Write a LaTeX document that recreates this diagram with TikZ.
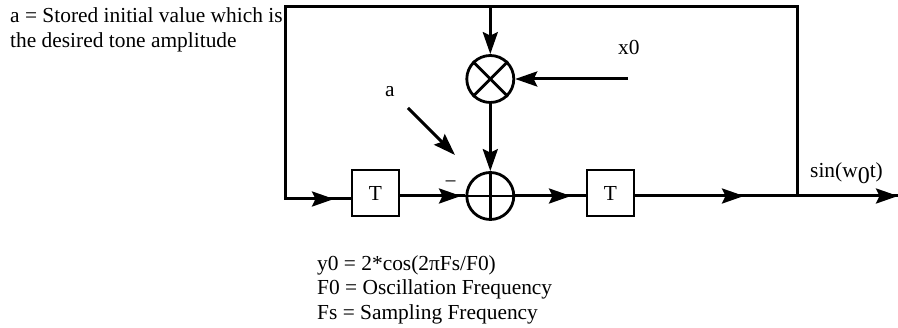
\documentclass[tikz,border=0pt]{standalone}
\usepackage{fontspec}
\setmainfont{Liberation Serif}
\usetikzlibrary{arrows.meta}
\tikzset{
  x=1pt,y=-1pt,
  wire/.style={line width=3pt,line cap=butt,draw=black},
  arr/.style={wire,-{Stealth[length=22pt,width=15pt,inset=3.5pt]}},
  delaybox/.style={draw=black,line width=2.8pt,minimum width=47pt,minimum height=46pt,inner sep=0pt,font=\fontsize{21.4}{25}\selectfont},
  opcircle/.style={draw=black,line width=2.8pt,circle,minimum size=47pt,inner sep=0pt},
  lbl/.style={inner sep=0pt,anchor=base west,font=\fontsize{21.4}{25}\selectfont}
}
\begin{document}
\begin{tikzpicture}
\useasboundingbox (0,0) rectangle (898,328);
% operators
\node[opcircle] (mul) at (490.3,79) {};
\node[opcircle] (sum) at (490.3,196) {};
\draw[line width=2.8pt] (mul.north west) -- (mul.south east);
\draw[line width=2.8pt] (mul.north east) -- (mul.south west);
\draw[line width=2.8pt] (sum.north) -- (sum.south);
\draw[line width=2.8pt] (sum.west) -- (sum.east);
% delays
\node[delaybox] (t1) at (375.5,193) {T};
\node[delaybox] (t2) at (610.5,193) {T};
% helper coordinates
\coordinate (tl) at (285.5,7);
\coordinate (bl) at (285.5,199);
\coordinate (tr) at (797.5,7);
\coordinate (jn) at (797.5,196);
\coordinate (topin) at (490.3,7);
\coordinate (lin) at (334,199);
\coordinate (t1in) at (t1.west |- lin);
\coordinate (sumin) at (461,196);
\coordinate (t2in) at (571,196);
\coordinate (outm) at (744,196);
\coordinate (out) at (898,196);
\coordinate (xs) at (628,79);
\coordinate (as) at (408,108);
\coordinate (ae) at (455,155);
% feedback loop
\draw[wire,line cap=rect] (t1in) -- (bl) -- (tl) -- (tr) -- (jn);
\draw[arr] (bl) -- (lin);
% inputs
\draw[arr] (topin) -- (mul.north);
\draw[arr] (xs) -- (mul.east);
\draw[arr] (mul.south) -- (sum.north);
\draw[arr] (as) -- (ae);
% forward path
\draw[wire] (t1.east |- sumin) -- (sum.west);
\draw[arr] (t1.east |- sumin) -- (sumin);
\draw[wire] (sum.east) -- (t2.west |- sum.east);
\draw[arr] (sum.east) -- (t2in);
\draw[wire] (t2.east |- outm) -- (out);
\draw[arr] (t2.east |- outm) -- (outm);
\draw[arr] (jn) -- (out);
% labels
\node[lbl] (l1) at (10,22.5) {a = Stored initial value which is};
\node[lbl] (l2) at (10,47.5) {the desired tone amplitude};
\node[lbl] (lx) at (618,54.5) {x0};
\node[lbl] (la) at (385,96.5) {a};
\node[lbl] (lm) at (444.5,189) {−};
\node[lbl] (ls) at (810,178) {sin(w\raisebox{-6pt}{\fontsize{24}{25}\selectfont 0}t)};
\node[lbl] (b1) at (317,270.5) {y0 = 2*cos(2πFs/F0)};
\node[lbl] (b2) at (317,294.5) {F0 = Oscillation Frequency};
\node[lbl] (b3) at (317,319.5) {Fs = Sampling Frequency};
\end{tikzpicture}
\end{document}
